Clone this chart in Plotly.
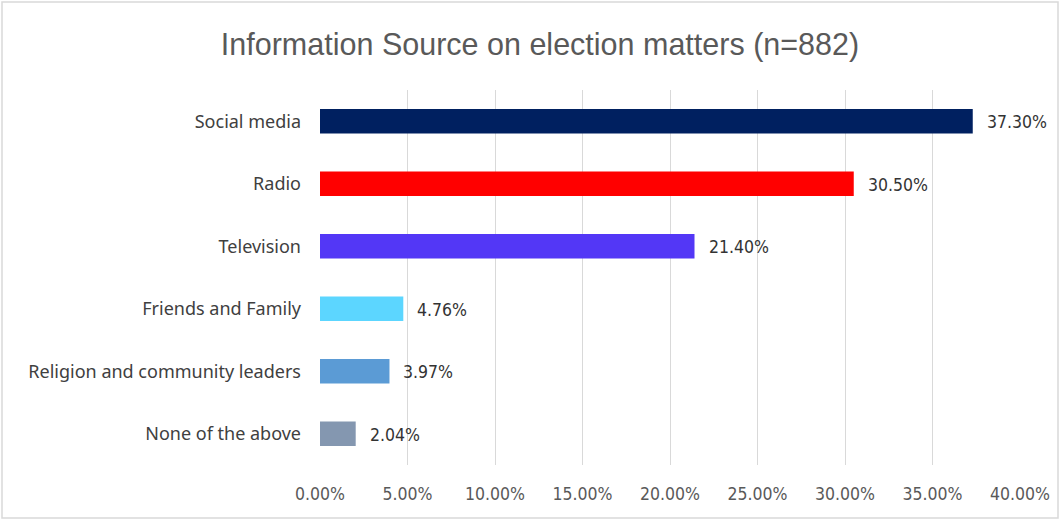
import plotly.graph_objects as go

categories = ["Social media", "Radio", "Television", "Friends and Family",
              "Religion and community leaders", "None of the above"]
values = [37.30, 30.50, 21.40, 4.76, 3.97, 2.04]
labels = ["37.30%", "30.50%", "21.40%", "4.76%", "3.97%", "2.04%"]
colors = ["#002060", "#FF0000", "#5337F6", "#5CD6FF", "#5B9BD5", "#8497B0"]
tick_vals = [0, 5, 10, 15, 20, 25, 30, 35, 40]
tick_text = ["0.00%", "5.00%", "10.00%", "15.00%", "20.00%", "25.00%", "30.00%", "35.00%", "40.00%"]

W, H = 1061, 520
L, R, T, B = 320, 41, 90, 55
COND = "DejaVu Sans Condensed, Liberation Sans"

fig = go.Figure(go.Bar(
    x=values, y=categories, orientation="h",
    marker=dict(color=colors, line=dict(width=0)),
    width=0.39, hoverinfo="skip",
))

for v, c, t in zip(values, categories, labels):
    fig.add_annotation(x=v, y=c, text=t, showarrow=False, xanchor="left",
                       xshift=12, yshift=-1,
                       font=dict(family=COND, size=17.5, color="#333333"))

pw, ph = W - L - R, H - T - B
fig.add_shape(type="rect", xref="paper", yref="paper",
              x0=(2 - L) / pw, x1=(W - 3 - L) / pw,
              y0=-(B - 2) / ph, y1=(H - 2 - B) / ph,
              line=dict(color="#D9D9D9", width=1.5), fillcolor="rgba(0,0,0,0)", layer="below")

fig.update_layout(
    width=W, height=H,
    margin=dict(l=L, r=R, t=T, b=B, autoexpand=False),
    paper_bgcolor="white", plot_bgcolor="white",
    showlegend=False,
    title=dict(text="Information Source on election matters (n=882)",
               x=540 / W, xanchor="center", y=1 - 44 / H, yanchor="middle",
               font=dict(family="Liberation Sans", size=30.5, color="#595959")),
    xaxis=dict(range=[0, 40], tickvals=tick_vals, ticktext=tick_text,
               showgrid=True, gridcolor="#D9D9D9", gridwidth=1, zeroline=False,
               showline=False, ticks="", ticklen=0, ticklabelstandoff=16,
               tickfont=dict(family=COND, size=17.5, color="#595959"),
               fixedrange=True),
    yaxis=dict(autorange="reversed", showgrid=False, showline=False, ticks="",
               ticklabelstandoff=18,
               tickfont=dict(family="Noto Sans, DejaVu Sans", size=18, color="#404040"),
               fixedrange=True),
)

fig.write_html("out.html", config={"displayModeBar": False},
               post_script="document.body.style.margin='0';")
